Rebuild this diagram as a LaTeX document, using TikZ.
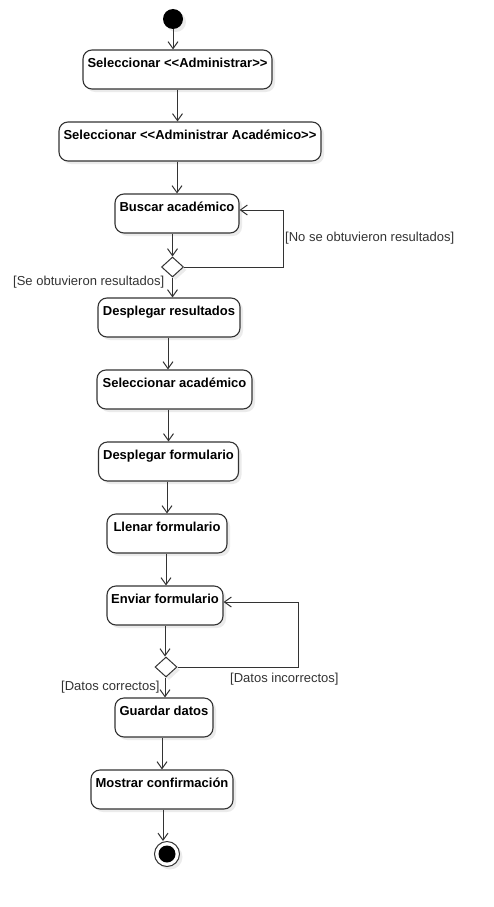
\documentclass[tikz,border=0pt]{standalone}
\usepackage{fontspec}
\setmainfont[Ligatures=NoCommon]{Liberation Sans}
\usetikzlibrary{shapes.geometric,shadows,arrows.meta}
\definecolor{ln}{HTML}{333333}
\definecolor{shd}{HTML}{EBEBEB}
\tikzset{
  act/.style={draw=ln, line width=1.1pt, fill=white, rounded corners=9pt, inner sep=0pt,
    text height=17pt, text depth=22pt, font=\bfseries\fontsize{13}{15}\selectfont,
    drop shadow={fill=shd, opacity=1, shadow xshift=3pt, shadow yshift=-3pt}},
  dec/.style={draw=ln, line width=1pt, fill=white, diamond, inner sep=0pt,
    minimum width=22pt, minimum height=20pt,
    drop shadow={fill=shd, opacity=1, shadow xshift=3pt, shadow yshift=-3pt}},
  flow/.style={draw=ln, line width=1pt, -{Straight Barb[length=7pt,width=10pt,line width=1pt]}},
  guard/.style={text=ln, font=\fontsize{13}{15}\selectfont, inner sep=0pt}
}
\begin{document}
\begin{tikzpicture}[x=1pt,y=-1pt]
\useasboundingbox (0,0) rectangle (493,907);
% initial
\node[circle, fill=black, minimum size=20pt, inner sep=0pt,
  drop shadow={fill=shd, opacity=1, shadow xshift=3pt, shadow yshift=-3pt}] (start) at (173,19) {};
\node[act, minimum width=189pt] (a1) at (177.5,69.5) {Seleccionar {<}{<}Administrar{>}{>}};
\node[act, minimum width=262pt] (a2) at (190,141.5) {Seleccionar {<}{<}Administrar Académico{>}{>}};
\node[act, minimum width=124pt] (a3) at (177,213.5) {Buscar académico};
\node[dec] (d1) at (172.5,267) {};
\node[act, minimum width=142pt] (a4) at (169,317.5) {Desplegar resultados};
\node[act, minimum width=155pt] (a5) at (174.5,389.5) {Seleccionar académico};
\node[act, minimum width=140pt] (a6) at (168.5,461.5) {Desplegar formulario};
\node[act, minimum width=120pt] (a7) at (167,533.5) {Llenar formulario};
\node[act, minimum width=116pt] (a8) at (165,605.5) {Enviar formulario};
\node[dec] (d2) at (166,667) {};
\node[act, minimum width=98pt] (a9) at (164,717.5) {Guardar datos};
\node[act, minimum width=142pt] (a10) at (162,789.5) {Mostrar confirmación};
% final
\node[circle, draw=ln, line width=1pt, fill=white, minimum size=25pt, inner sep=0pt,
  drop shadow={fill=shd, opacity=1, shadow xshift=3pt, shadow yshift=-3pt}] (end) at (167,854) {};
\node[circle, fill=black, minimum size=17pt, inner sep=0pt] (endin) at (end.center) {};

\coordinate (l1) at (283,210);
\coordinate (l2) at (298,602);

\draw[flow] (start.south) -- (start.south |- a1.north);
\draw[flow] (a1.south) -- (a1.south |- a2.north);
\draw[flow] (a3.north |- a2.south) -- (a3.north);
\draw[flow] (d1.north |- a3.south) -- (d1.north);
\draw[flow] (d1.south) -- (d1.south |- a4.north);
\draw[flow] (d1.east) -| (l1) -- (l1 -| a3.east);
\draw[flow] ([xshift=-1pt]a4.south) -- ([xshift=-1pt]a4.south |- a5.north);
\draw[flow] (a6.north |- a5.south) -- (a6.north);
\draw[flow] (a7.north |- a6.south) -- (a7.north);
\draw[flow] ([xshift=-1pt]a7.south) -- ([xshift=-1pt]a7.south |- a8.north);
\draw[flow] (a8.south) -- (a8.south |- d2.north);
\draw[flow] ([xshift=-1pt]d2.south) -- ([xshift=-1pt]d2.south |- a9.north);
\draw[flow] (d2.east) -| (l2) -- (l2 -| a8.east);
\draw[flow] (a10.north |- a9.south) -- (a10.north);
\draw[flow] ([xshift=1pt]a10.south) -- ([xshift=1pt]a10.south |- end.north);

\node[guard, anchor=west] (g1) at (285,238) {[No se obtuvieron resultados]};
\node[guard, anchor=west] (g2) at (13,282) {[Se obtuvieron resultados]};
\node[guard, anchor=west] (g3) at (230,679) {[Datos incorrectos]};
\node[guard, anchor=west] (g4) at (61,687) {[Datos correctos]};
\end{tikzpicture}
\end{document}
